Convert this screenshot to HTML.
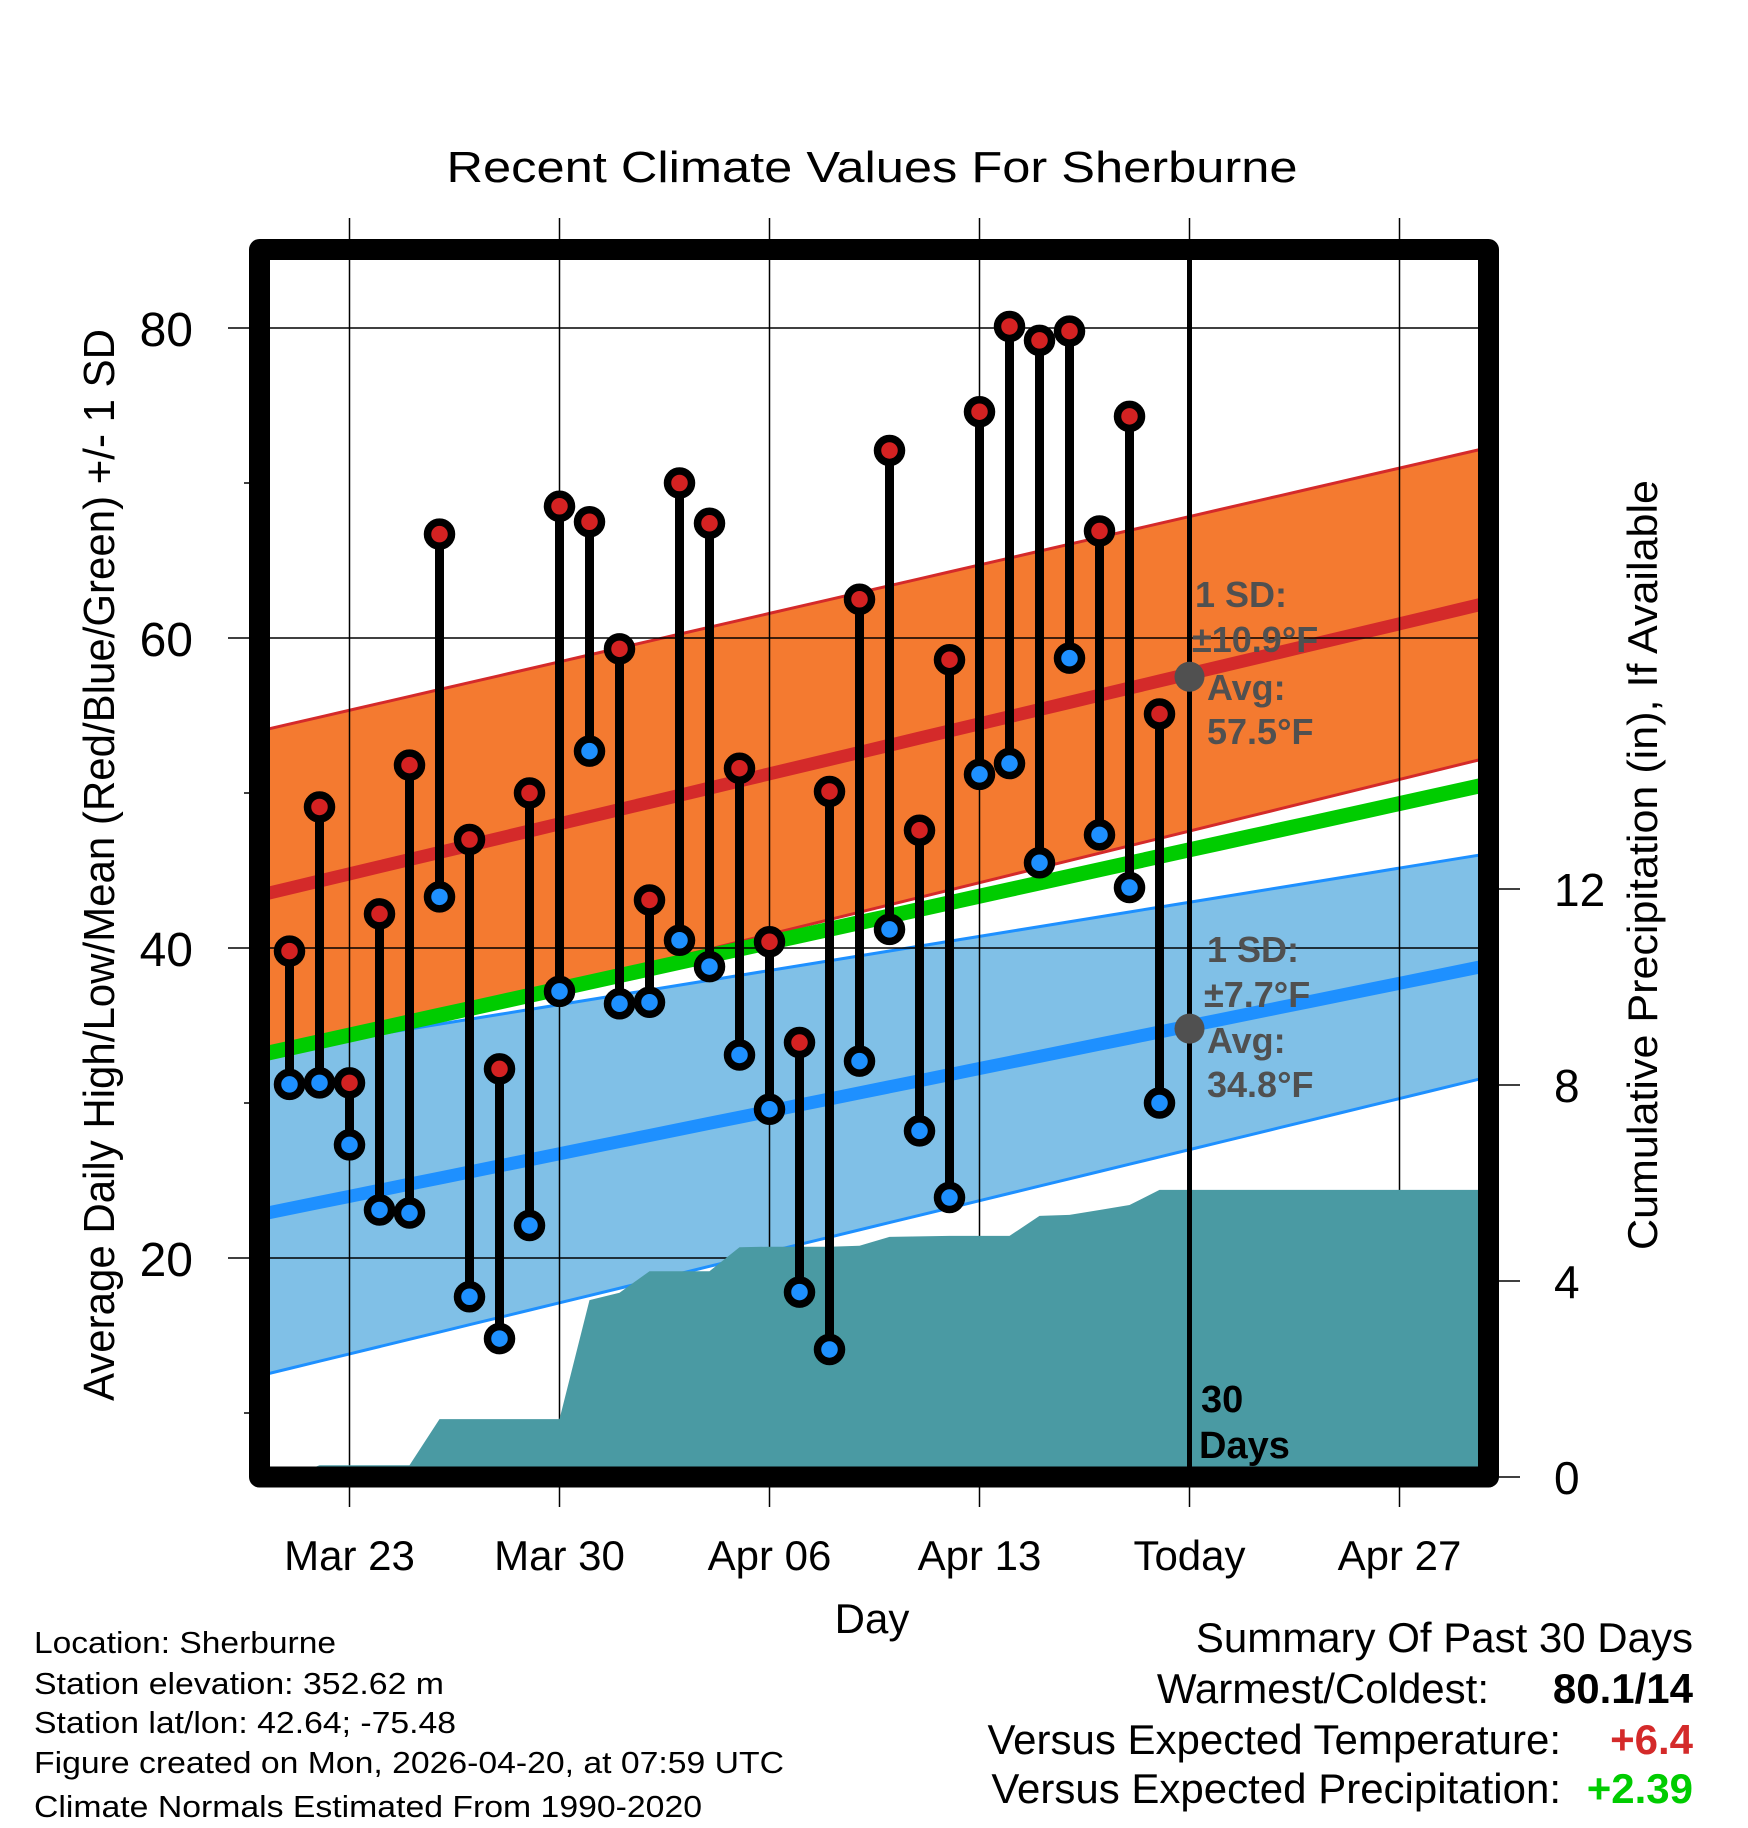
<!DOCTYPE html>
<html><head><meta charset="utf-8"><title>Recent Climate Values For Sherburne</title>
<style>html,body{margin:0;padding:0;background:#fff}svg{display:block;font-family:"Liberation Sans",Arial,sans-serif}</style>
</head><body>
<svg id="chart" xmlns="http://www.w3.org/2000/svg" width="1748" height="1828" viewBox="0 0 1748 1828">
<defs><clipPath id="plotclip"><rect x="259.5" y="249.5" width="1229" height="1227.5"/></clipPath></defs>
<g id="plot" clip-path="url(#plotclip)"></g>
<g id="over"></g>
</svg>
<script>
// ---- data ----
const dayLabels = ["Mar 23","Mar 30","Apr 06","Apr 13","Today","Apr 27"];
const dayTickIdx = [3,10,17,24,31,38];
const highs = [39.8,49.1,31.3,42.2,51.8,66.7,47.0,32.2,50.0,68.5,67.5,59.3,43.1,70.0,67.4,51.6,40.4,33.9,50.1,62.5,72.1,47.6,58.6,74.6,80.1,79.2,79.8,66.9,74.3,55.1];
const lows  = [31.2,31.3,27.3,23.1,22.9,43.3,17.5,14.8,22.1,37.2,52.7,36.4,36.5,40.5,38.8,33.1,29.6,17.8,14.1,32.7,41.2,28.2,23.9,51.2,51.9,45.5,58.7,47.3,43.9,30.0];
const precipCum = [0,0.24,0.24,0.24,0.24,1.18,1.18,1.18,1.18,1.18,3.61,3.76,4.20,4.20,4.20,4.69,4.70,4.70,4.70,4.72,4.90,4.91,4.92,4.92,4.92,5.33,5.35,5.45,5.55,5.86];
const normHighEnds = [43.4,62.3];
const normLowEnds = [22.8,38.9];
const sdHighEnds = [10.6,10.0];
const sdLowEnds = [10.4,7.2];
const sdHigh = 10.9;
const sdLow = 7.7;
const avgHighToday = 57.5;
const avgLowToday = 34.8;
const tempTicks = [20,40,60,80];
const tempMinorTicks = [10,30,50,70];
const precipTicks = [0,4,8,12];
const todayIdx = 31;
const lastIdx = 41;

// ---- axes ----
const X0=259.5, DX=30;
function xDay(d){return X0+DX*d;}
function yT(v){return 328+(80-v)*15.5;}
function yP(v){return 1477-v*49;}
const NS="http://www.w3.org/2000/svg";
function mk(parent,tag,attrs,text){const e=document.createElementNS(NS,tag);for(const k in attrs)e.setAttribute(k,attrs[k]);if(text!==undefined)e.textContent=text;parent.appendChild(e);return e;}
const plot=document.getElementById('plot'), over=document.getElementById('over');
function lerp(a,d){return a[0]+(a[1]-a[0])*d/lastIdx;}
function normH(d){return lerp(normHighEnds,d);}
function normL(d){return lerp(normLowEnds,d);}
function hUp(d){return normH(d)+lerp(sdHighEnds,d);}
function hDn(d){return normH(d)-lerp(sdHighEnds,d);}
function lUp(d){return normL(d)+lerp(sdLowEnds,d);}
function lDn(d){return normL(d)-lerp(sdLowEnds,d);}
function pts(f){const a=[];for(let d=-1;d<=lastIdx+1;d++)a.push(xDay(d)+','+yT(f(d)));return a;}
let p;
p=mk(plot,'polygon',{points:pts(hUp).concat(pts(hDn).reverse()).join(' '),fill:'#f47a30'});

p=mk(plot,'polygon',{points:pts(lUp).concat(pts(lDn).reverse()).join(' '),fill:'#80c0e7'});

function line(f,col,w,name){const e=mk(plot,'polyline',{points:pts(f).join(' '),fill:'none',stroke:col,'stroke-width':w});}
line(hUp,'#d42a2a',3,'high-upper-sd-line');
line(hDn,'#d42a2a',3,'high-lower-sd-line');
line(lUp,'#1e90ff',3,'low-upper-sd-line');
line(lDn,'#1e90ff',3,'low-lower-sd-line');
line(normH,'#d42a2a',13,'normal-high-line');
line(normL,'#1e90ff',13,'normal-low-line');
line(d=>(normH(d)+normL(d))/2,'#00cc00',15,'normal-mean-line');
tempTicks.forEach(v=>{const g=mk(plot,'line',{x1:240,x2:1500,y1:yT(v),y2:yT(v),stroke:'#000','stroke-width':1.5});});
dayTickIdx.forEach((d,i)=>{if(d===todayIdx)return;const g=mk(plot,'line',{x1:xDay(d),x2:xDay(d),y1:240,y2:1490,stroke:'#000','stroke-width':1.5});});
const pp=[xDay(1)+','+yP(0)];
precipCum.forEach((v,i)=>pp.push(xDay(i+1)+','+yP(v)));
pp.push(xDay(lastIdx+1)+','+yP(precipCum[precipCum.length-1]));
pp.push(xDay(lastIdx+1)+','+yP(-1));pp.push(xDay(1)+','+yP(-1));
p=mk(plot,'polygon',{points:pp.join(' '),fill:'#4a9aa3'});

p=mk(plot,'line',{x1:xDay(todayIdx),x2:xDay(todayIdx),y1:240,y2:1490,stroke:'#000','stroke-width':5});

highs.forEach((h,i)=>{const x=xDay(i+1);
 const s=mk(plot,'line',{x1:x,x2:x,y1:yT(h),y2:yT(lows[i]),stroke:'#000','stroke-width':9});
 });
highs.forEach((h,i)=>{const x=xDay(i+1);
 const a=mk(plot,'circle',{cx:x,cy:yT(h),r:12,fill:'#d42222',stroke:'#000','stroke-width':7.5});
 
 const b=mk(plot,'circle',{cx:x,cy:yT(lows[i]),r:12,fill:'#1e90ff',stroke:'#000','stroke-width':7.5});
 });
[[avgHighToday,'avg-high-marker'],[avgLowToday,'avg-low-marker']].forEach(a=>{const c=mk(plot,'circle',{cx:xDay(todayIdx),cy:yT(a[0]),r:15,fill:'#505050'});});
function ann(x,y,t,name){const e=mk(plot,'text',{x:x,y:y,'font-size':36,'font-weight':'bold',fill:'#505050'},t);}
ann(1195,607,'1 SD:','high-sd-label');ann(1192,652,'\u00b1'+sdHigh.toFixed(1)+'\u00b0F','high-sd-value');
ann(1207,700,'Avg:','high-avg-label');ann(1207,744,avgHighToday.toFixed(1)+'\u00b0F','high-avg-value');
ann(1207,962,'1 SD:','low-sd-label');ann(1204,1007,'\u00b1'+sdLow.toFixed(1)+'\u00b0F','low-sd-value');
ann(1207,1053,'Avg:','low-avg-label');ann(1207,1097,avgLowToday.toFixed(1)+'\u00b0F','low-avg-value');
p=mk(plot,'text',{x:1201,y:1412,'font-size':38,'font-weight':'bold',fill:'#000'},'30');
p=mk(plot,'text',{x:1199,y:1458,'font-size':38,'font-weight':'bold',fill:'#000'},'Days');
p=mk(over,'rect',{x:259.5,y:249.5,width:1229,height:1227.5,fill:'none',stroke:'#000','stroke-width':21,'stroke-linejoin':'round'});

tempTicks.forEach(v=>{const t=mk(over,'line',{x1:228,x2:250,y1:yT(v),y2:yT(v),stroke:'#000','stroke-width':1.5});
 const l=mk(over,'text',{x:193,y:yT(v)+18,'font-size':48,'text-anchor':'end'},String(v));});
tempMinorTicks.forEach(v=>{const t=mk(over,'line',{x1:244,x2:250,y1:yT(v),y2:yT(v),stroke:'#000','stroke-width':1.5});});
precipTicks.forEach(v=>{const t=mk(over,'line',{x1:1499,x2:1520,y1:yP(v),y2:yP(v),stroke:'#000','stroke-width':1.5});
 const l=mk(over,'text',{x:1554,y:yP(v)+17,'font-size':46},String(v));});
dayTickIdx.forEach((d,i)=>{const t=mk(over,'line',{x1:xDay(d),x2:xDay(d),y1:1487,y2:1507,stroke:'#000','stroke-width':1.5});
 const t2=mk(over,'line',{x1:xDay(d),x2:xDay(d),y1:218,y2:240,stroke:'#000','stroke-width':1.5});
 const l=mk(over,'text',{x:xDay(d),y:1570,'font-size':42,'text-anchor':'middle'},dayLabels[i]);});
</script>
<svg style="position:absolute;left:0;top:0" width="1748" height="1828">
<text x="872" y="182" font-size="44" text-anchor="middle" textLength="851" lengthAdjust="spacingAndGlyphs" font-family="Liberation Sans, sans-serif">Recent Climate Values For Sherburne</text>
<text transform="translate(114,865) rotate(-90)" font-size="44" text-anchor="middle" textLength="1072" lengthAdjust="spacingAndGlyphs" font-family="Liberation Sans, sans-serif">Average Daily High/Low/Mean (Red/Blue/Green) +/- 1 SD</text>
<text transform="translate(1657,865) rotate(-90)" font-size="42" text-anchor="middle" textLength="770" lengthAdjust="spacingAndGlyphs" font-family="Liberation Sans, sans-serif">Cumulative Precipitation (in), If Available</text>
<text x="872" y="1633" font-size="42" text-anchor="middle" font-family="Liberation Sans, sans-serif">Day</text>
<g font-size="31" font-family="Liberation Sans, sans-serif">
<text x="34" y="1653" textLength="302" lengthAdjust="spacingAndGlyphs">Location: Sherburne</text>
<text x="34" y="1694" textLength="410" lengthAdjust="spacingAndGlyphs">Station elevation: 352.62 m</text>
<text x="34" y="1733" textLength="422" lengthAdjust="spacingAndGlyphs">Station lat/lon: 42.64; -75.48</text>
<text x="34" y="1773" textLength="750" lengthAdjust="spacingAndGlyphs">Figure created on Mon, 2026-04-20, at 07:59 UTC</text>
<text x="34" y="1817" textLength="668" lengthAdjust="spacingAndGlyphs">Climate Normals Estimated From 1990-2020</text>
</g>
<g font-size="42" font-family="Liberation Sans, sans-serif" text-anchor="end">
<text x="1693" y="1652">Summary Of Past 30 Days</text>
<text x="1489" y="1703">Warmest/Coldest:</text>
<text x="1693" y="1703" font-weight="bold">80.1/14</text>
<text x="1561" y="1754">Versus Expected Temperature:</text>
<text x="1693" y="1754" font-weight="bold" fill="#d42a2a">+6.4</text>
<text x="1561" y="1803">Versus Expected Precipitation:</text>
<text x="1693" y="1803" font-weight="bold" fill="#00cc00">+2.39</text>
</g>
</svg>
</body></html>
